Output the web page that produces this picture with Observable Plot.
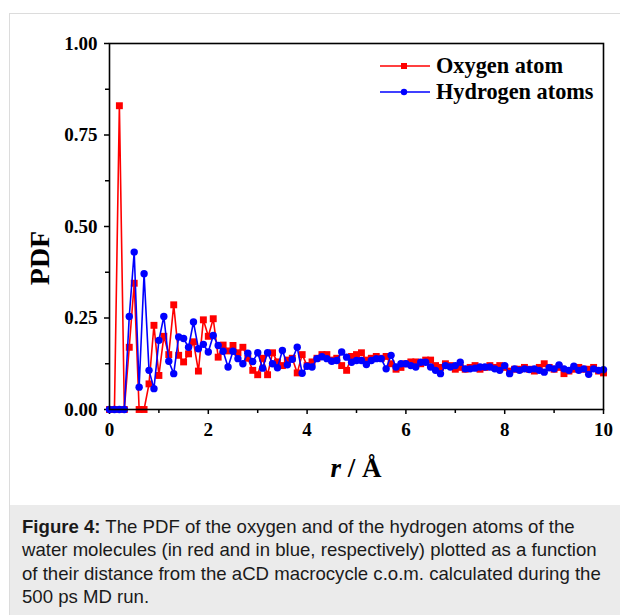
<!DOCTYPE html>
<html>
<head>
<meta charset="utf-8">
<script src="https://cdn.jsdelivr.net/npm/d3@7"></script>
<script src="https://cdn.jsdelivr.net/npm/@observablehq/plot@0.6"></script>
<style>
  html, body { margin: 0; padding: 0; background: #fff; width: 620px; height: 615px; overflow: hidden; }
  #border { position: absolute; left: 9px; top: 13px; width: 640px; height: 640px; border: 1px solid #dcdcdc; box-sizing: border-box; }
  #chart { position: absolute; left: 0; top: 0; }
  .serif { font-family: "Liberation Serif", "Times New Roman", serif; font-weight: bold; color: #000; }
  #ylab { position: absolute; left: 40px; top: 258px; font-size: 28px; transform: translate(-50%, -50%) rotate(-90deg); white-space: nowrap; }
  #xlab { position: absolute; left: 356px; top: 468px; font-size: 27px; transform: translate(-50%, -50%); white-space: nowrap; }
  #legend { position: absolute; left: 380px; top: 53px; font-size: 22.3px; }
  .lg { display: flex; align-items: center; height: 26px; }
  .lg svg { margin-right: 6px; }
  #caption { position: absolute; left: 10px; top: 505px; width: 610px; height: 110px; background: #ebebeb;
    box-sizing: border-box; padding: 10px 6px 0 12px; font-family: "Liberation Sans", Arial, sans-serif;
    font-size: 18.6px; line-height: 23.4px; color: #1a1a1a; }
</style>
</head>
<body>
<div id="border"></div>
<div id="chart"></div>
<div id="ylab" class="serif">PDF</div>
<div id="xlab" class="serif"><i>r</i> / Å</div>
<div id="legend" class="serif"></div>
<div id="caption"><b>Figure 4:</b> The PDF of the oxygen and of the hydrogen atoms of the water molecules (in red and in blue, respectively) plotted as a function of their distance from the aCD macrocycle c.o.m. calculated during the 500 ps MD run.</div>
<script>
// PDF values sampled every 0.1 Å from r = 0 to r = 10
const oxygen = [
  0, 0, 0.83, 0, 0.17, 0.345, 0, 0, 0.07, 0.23,
  0.093, 0.2, 0.15, 0.286, 0.148, 0.13, 0.152, 0.185, 0.105, 0.245,
  0.2, 0.248, 0.143, 0.176, 0.16, 0.175, 0.155, 0.17, 0.14, 0.107,
  0.095, 0.14, 0.095, 0.155, 0.13, 0.12, 0.135, 0.14, 0.10, 0.15,
  0.12, 0.13, 0.14, 0.15, 0.15, 0.135, 0.14, 0.12, 0.107, 0.145,
  0.15, 0.155, 0.135, 0.14, 0.145, 0.14, 0.145, 0.125, 0.11, 0.115,
  0.125, 0.13, 0.13, 0.125, 0.135, 0.135, 0.12, 0.115, 0.125, 0.12,
  0.11, 0.115, 0.11, 0.115, 0.12, 0.11, 0.115, 0.12, 0.115, 0.12,
  0.115, 0.105, 0.11, 0.11, 0.115, 0.11, 0.105, 0.115, 0.125, 0.115,
  0.11, 0.115, 0.098, 0.105, 0.11, 0.115, 0.11, 0.11, 0.115, 0.105,
  0.10
];
const hydrogen = [
  0, 0, 0, 0, 0.254, 0.43, 0.061, 0.371, 0.107, 0.057,
  0.189, 0.254, 0.132, 0.098, 0.198, 0.194, 0.17, 0.239, 0.166, 0.178,
  0.157, 0.202, 0.175, 0.159, 0.116, 0.159, 0.139, 0.125, 0.154, 0.131,
  0.155, 0.113, 0.155, 0.125, 0.114, 0.161, 0.122, 0.137, 0.17, 0.099,
  0.118, 0.116, 0.139, 0.144, 0.139, 0.132, 0.134, 0.157, 0.143, 0.129,
  0.134, 0.134, 0.123, 0.134, 0.139, 0.139, 0.111, 0.148, 0.116, 0.125,
  0.125, 0.12, 0.116, 0.129, 0.129, 0.116, 0.107, 0.098, 0.12, 0.116,
  0.12, 0.129, 0.111, 0.111, 0.113, 0.116, 0.116, 0.116, 0.111, 0.107,
  0.12, 0.098, 0.111, 0.107, 0.111, 0.109, 0.111, 0.107, 0.102, 0.114,
  0.111, 0.122, 0.111, 0.107, 0.118, 0.107, 0.111, 0.096, 0.111, 0.107,
  0.109
];
const rStep = 0.1;
const xMajor = [0, 2, 4, 6, 8, 10];
const xMinor = [1, 3, 5, 7, 9];
const yMajor = [0, 0.25, 0.5, 0.75, 1.0];
const yMinor = [0.125, 0.375, 0.625, 0.875];
const seriesNames = ["Oxygen atom", "Hydrogen atoms"];
const seriesColors = ["#ff0000", "#0000ff"];

const oxy = oxygen.map((v, i) => ({r: +(i * rStep).toFixed(1), v}));
const hyd = hydrogen.map((v, i) => ({r: +(i * rStep).toFixed(1), v}));

const chart = Plot.plot({
  width: 620,
  height: 500,
  marginLeft: 109,
  marginRight: 17,
  marginTop: 43,
  marginBottom: 91,
  style: {fontFamily: "Liberation Serif, Times New Roman, serif", fontSize: "19px", fontWeight: "bold", background: "transparent", color: "#000"},
  x: {domain: [0, 10]},
  y: {domain: [0, 1]},
  marks: [
    Plot.axisX({ticks: xMajor, tickSize: 5, tickPadding: 8, strokeWidth: 1.5, label: null}),
    Plot.axisX({ticks: xMinor, tickSize: 4, tickFormat: () => "", strokeWidth: 1.5, label: null}),
    Plot.axisY({ticks: yMajor, tickSize: 5, tickPadding: 7, tickFormat: d3.format(".2f"), strokeWidth: 1.5, label: null}),
    Plot.axisY({ticks: yMinor, tickSize: 4, tickFormat: () => "", strokeWidth: 1.5, label: null}),
    Plot.lineY(oxy, {x: "r", y: "v", stroke: seriesColors[0], strokeWidth: 1.6}),
    Plot.dot(oxy, {x: "r", y: "v", symbol: "square", r: 3.9, fill: seriesColors[0], stroke: "none"}),
    Plot.lineY(hyd, {x: "r", y: "v", stroke: seriesColors[1], strokeWidth: 1.6}),
    Plot.dot(hyd, {x: "r", y: "v", symbol: "circle", r: 3.7, fill: seriesColors[1], stroke: "none"}),
    Plot.frame({stroke: "#000", strokeWidth: 1.6})
  ]
});
document.getElementById("chart").appendChild(chart);

const legend = document.getElementById("legend");
seriesNames.forEach((name, i) => {
  const row = document.createElement("div");
  row.className = "lg";
  const marker = i === 0
    ? `<rect x="21" y="7" width="6" height="6" fill="${seriesColors[i]}"/>`
    : `<circle cx="24" cy="10" r="3.2" fill="${seriesColors[i]}"/>`;
  row.innerHTML = `<svg width="50" height="20"><line x1="0" x2="50" y1="10" y2="10" stroke="${seriesColors[i]}" stroke-width="1.6"/>${marker}</svg><span>${name}</span>`;
  legend.appendChild(row);
});
</script>
</body>
</html>
